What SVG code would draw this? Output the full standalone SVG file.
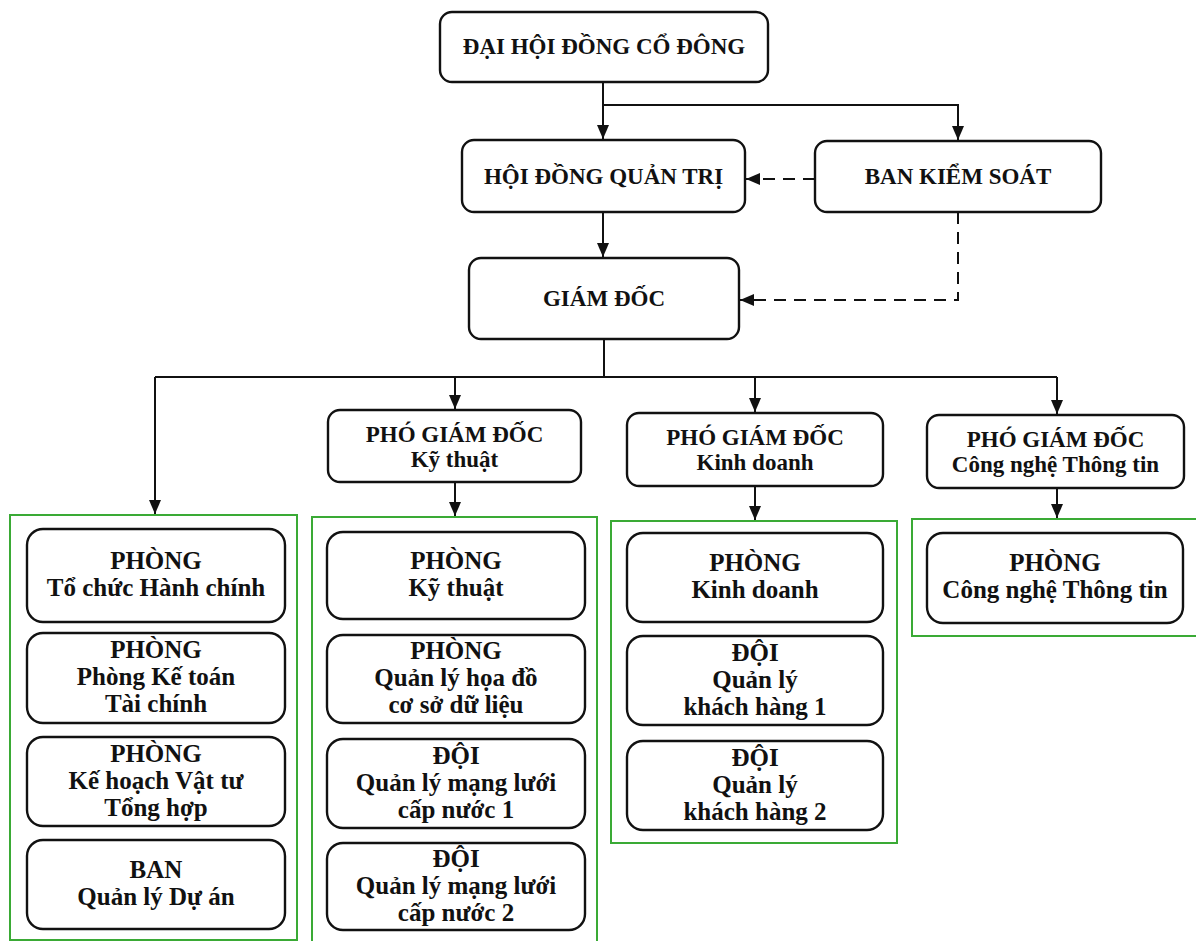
<svg xmlns="http://www.w3.org/2000/svg" width="1196" height="941" viewBox="0 0 1196 941">
<style>
.box{fill:#fff;stroke:#111;stroke-width:2.4}
.grp{fill:none;stroke:#3aaa35;stroke-width:2}
.h{font-family:"Liberation Serif","Times New Roman",serif;font-weight:bold;font-size:23px;fill:#111;text-anchor:middle}
.t{font-family:"Liberation Serif","Times New Roman",serif;font-weight:bold;font-size:25px;fill:#111;text-anchor:middle}
.ln{fill:none;stroke:#111;stroke-width:2}
.dash{stroke-dasharray:12 8}
</style>
<defs>
<marker id="arr" viewBox="0 0 14 12" refX="14" refY="6" markerWidth="14" markerHeight="12" markerUnits="userSpaceOnUse" orient="auto">
<path d="M0,0 L14,6 L0,12 z" fill="#111"/>
</marker>
</defs>
<rect width="1196" height="941" fill="#fff"/>

<g id="groups">
<rect class="grp" x="10" y="515" width="287" height="425"/>
<rect class="grp" x="312" y="517" width="285" height="426"/>
<rect class="grp" x="611" y="521" width="286" height="322"/>
<rect class="grp" x="912" y="519" width="290" height="117"/>
</g>

<g id="connectors">
<path class="ln" d="M603,82 V139" marker-end="url(#arr)"/>
<path class="ln" d="M603,105 H958 V140" marker-end="url(#arr)"/>
<path class="ln dash" d="M815,179 H746" marker-end="url(#arr)"/>
<path class="ln" d="M603,212 V257" marker-end="url(#arr)"/>
<path class="ln dash" d="M958,212 V300 H740" marker-end="url(#arr)"/>
<path class="ln" d="M604,339 V377"/>
<path class="ln" d="M155,377 H1057"/>
<path class="ln" d="M155,377 V514" marker-end="url(#arr)"/>
<path class="ln" d="M455,377 V409" marker-end="url(#arr)"/>
<path class="ln" d="M755,377 V412" marker-end="url(#arr)"/>
<path class="ln" d="M1057,377 V414" marker-end="url(#arr)"/>
<path class="ln" d="M455,482 V516" marker-end="url(#arr)"/>
<path class="ln" d="M755,486 V520" marker-end="url(#arr)"/>
<path class="ln" d="M1057,488 V518" marker-end="url(#arr)"/>
</g>

<g id="dhdcd">
<rect class="box" x="440" y="12" width="328" height="70" rx="12"/>
<text class="h" x="604" y="54">ĐẠI HỘI ĐỒNG CỔ ĐÔNG</text>
</g>
<g id="hdqt">
<rect class="box" x="462" y="140" width="283" height="72" rx="12"/>
<text class="h" x="603.5" y="184">HỘI ĐỒNG QUẢN TRỊ</text>
</g>
<g id="bks">
<rect class="box" x="815" y="141" width="286" height="71" rx="12"/>
<text class="h" x="958" y="184">BAN KIỂM SOÁT</text>
</g>
<g id="gd">
<rect class="box" x="469" y="258" width="270" height="81" rx="12"/>
<text class="h" x="604" y="306">GIÁM ĐỐC</text>
</g>
<g id="pgd-kt">
<rect class="box" x="328" y="410" width="253" height="72" rx="12"/>
<text class="h" x="454.5" y="442">PHÓ GIÁM ĐỐC</text>
<text class="h" x="454.5" y="467">Kỹ thuật</text>
</g>
<g id="pgd-kd">
<rect class="box" x="627" y="413" width="256" height="73" rx="12"/>
<text class="h" x="755" y="445">PHÓ GIÁM ĐỐC</text>
<text class="h" x="755" y="470">Kinh doanh</text>
</g>
<g id="pgd-cntt">
<rect class="box" x="927" y="415" width="257" height="73" rx="12"/>
<text class="h" x="1055.5" y="447">PHÓ GIÁM ĐỐC</text>
<text class="h" x="1055.5" y="472">Công nghệ Thông tin</text>
</g>

<g id="p-tchc">
<rect class="box" x="27" y="529" width="258" height="93" rx="16"/>
<text class="t" x="156" y="569">PHÒNG</text>
<text class="t" x="156" y="596">Tổ chức Hành chính</text>
</g>
<g id="p-ktt">
<rect class="box" x="27" y="633" width="258" height="90" rx="16"/>
<text class="t" x="156" y="658">PHÒNG</text>
<text class="t" x="156" y="685">Phòng Kế toán</text>
<text class="t" x="156" y="712">Tài chính</text>
</g>
<g id="p-khvt">
<rect class="box" x="27" y="737" width="258" height="89" rx="16"/>
<text class="t" x="156" y="762">PHÒNG</text>
<text class="t" x="156" y="789">Kế hoạch Vật tư</text>
<text class="t" x="156" y="816">Tổng hợp</text>
</g>
<g id="b-qlda">
<rect class="box" x="27" y="840" width="258" height="89" rx="16"/>
<text class="t" x="156" y="878">BAN</text>
<text class="t" x="156" y="905">Quản lý Dự án</text>
</g>

<g id="p-kt">
<rect class="box" x="327" y="532" width="258" height="87" rx="16"/>
<text class="t" x="456" y="569">PHÒNG</text>
<text class="t" x="456" y="596">Kỹ thuật</text>
</g>
<g id="p-qlhd">
<rect class="box" x="327" y="635" width="258" height="88" rx="16"/>
<text class="t" x="456" y="659">PHÒNG</text>
<text class="t" x="456" y="686">Quản lý họa đồ</text>
<text class="t" x="456" y="713">cơ sở dữ liệu</text>
</g>
<g id="d-ml1">
<rect class="box" x="327" y="739" width="258" height="89" rx="16"/>
<text class="t" x="456" y="764">ĐỘI</text>
<text class="t" x="456" y="791">Quản lý mạng lưới</text>
<text class="t" x="456" y="818">cấp nước 1</text>
</g>
<g id="d-ml2">
<rect class="box" x="327" y="843" width="258" height="87" rx="16"/>
<text class="t" x="456" y="867">ĐỘI</text>
<text class="t" x="456" y="894">Quản lý mạng lưới</text>
<text class="t" x="456" y="921">cấp nước 2</text>
</g>

<g id="p-kd">
<rect class="box" x="627" y="533" width="256" height="89" rx="16"/>
<text class="t" x="755" y="571">PHÒNG</text>
<text class="t" x="755" y="598">Kinh doanh</text>
</g>
<g id="d-kh1">
<rect class="box" x="627" y="636" width="256" height="89" rx="16"/>
<text class="t" x="755" y="661">ĐỘI</text>
<text class="t" x="755" y="688">Quản lý</text>
<text class="t" x="755" y="715">khách hàng 1</text>
</g>
<g id="d-kh2">
<rect class="box" x="627" y="741" width="256" height="89" rx="16"/>
<text class="t" x="755" y="766">ĐỘI</text>
<text class="t" x="755" y="793">Quản lý</text>
<text class="t" x="755" y="820">khách hàng 2</text>
</g>

<g id="p-cntt">
<rect class="box" x="927" y="533" width="256" height="90" rx="16"/>
<text class="t" x="1055" y="571">PHÒNG</text>
<text class="t" x="1055" y="598">Công nghệ Thông tin</text>
</g>
</svg>
